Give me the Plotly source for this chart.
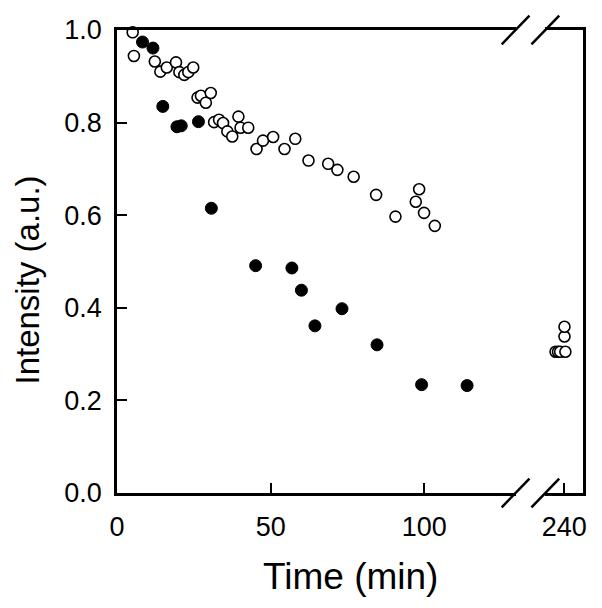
import plotly.graph_objects as go

# open circles, early time points (min) and intensity (a.u.)
open_time = [5.1, 5.5, 12.3, 14.1, 16.2, 19.2, 20.3, 21.9, 23.2, 24.8, 26.2, 27.3, 28.9,
             30.5, 31.6, 33.2, 34.5, 35.9, 37.5, 39.5, 40.2, 42.7, 45.4, 47.5, 50.8,
             54.5, 58.0, 62.3, 68.7, 71.7, 77.0, 84.3, 90.6, 97.2, 98.3, 99.9, 103.4]
open_int = [0.995, 0.944, 0.932, 0.910, 0.919, 0.930, 0.909, 0.903, 0.909, 0.919, 0.854,
            0.858, 0.843, 0.864, 0.801, 0.806, 0.799, 0.781, 0.770, 0.813, 0.789, 0.789,
            0.743, 0.761, 0.769, 0.743, 0.765, 0.718, 0.711, 0.698, 0.683, 0.644, 0.597,
            0.629, 0.656, 0.605, 0.577]

# open circles after the axis break
late_time = [237.2, 238.0, 238.7, 240.4, 240.1, 240.1]
late_int = [0.305, 0.305, 0.305, 0.305, 0.338, 0.359]

# filled circles
filled_time = [8.3, 11.7, 14.9, 19.5, 20.9, 26.5, 30.7, 45.1, 56.9, 60.0, 64.4, 73.2,
               84.6, 99.1, 113.9]
filled_int = [0.974, 0.961, 0.835, 0.791, 0.793, 0.802, 0.615, 0.491, 0.486, 0.438,
              0.361, 0.398, 0.320, 0.234, 0.232]

x_ticks_left = [0, 50, 100]
x_ticks_right = [240]
y_ticks = [0.0, 0.2, 0.4, 0.6, 0.8, 1.0]

FONT = "Liberation Sans, Arial, sans-serif"
PAGE_PAD = 8  # default body margin of the html page
W, H = 602 - 2 * PAGE_PAD, 608 - 2 * PAGE_PAD

# frame position on the page (px)
frame_left, frame_right, frame_top, frame_bottom = 117, 587, 24, 493
ML = frame_left - PAGE_PAD
MT = frame_top - PAGE_PAD
MR = W - (frame_right - PAGE_PAD)
MB = H - (frame_bottom - PAGE_PAD)
PW = frame_right - frame_left
PH = frame_bottom - frame_top

# pixel layout of the broken x axis
left_end_px = 519
right_start_px = 549
px_per_min = 3.1
tick240_px = 568


def px_to_paper_x(px):
    return (px - frame_left) / PW


def px_to_paper_y(py):
    return (frame_bottom - py) / PH


open_marker = dict(symbol="circle", size=11, color="white", line=dict(color="black", width=1.6))
filled_marker = dict(symbol="circle", size=12, color="black", line=dict(color="black", width=1))

fig = go.Figure()
fig.add_trace(go.Scatter(x=open_time, y=open_int, mode="markers", marker=open_marker,
                         xaxis="x", yaxis="y", cliponaxis=False, showlegend=False))
fig.add_trace(go.Scatter(x=filled_time, y=filled_int, mode="markers", marker=filled_marker,
                         xaxis="x", yaxis="y", cliponaxis=False, showlegend=False))
fig.add_trace(go.Scatter(x=late_time, y=late_int, mode="markers", marker=open_marker,
                         xaxis="x2", yaxis="y2", cliponaxis=False, showlegend=False))

left_range = [0, (left_end_px - frame_left) / px_per_min]
right_range = [240 - (tick240_px - right_start_px) / px_per_min,
               240 + (frame_right - tick240_px) / px_per_min]

axis_common = dict(
    showline=True, linecolor="black", linewidth=2.5, mirror=True,
    ticks="inside", ticklen=10, tickwidth=2, tickcolor="black",
    showgrid=False, zeroline=False,
    tickfont=dict(family=FONT, size=27, color="black"),
)

fig.update_layout(
    width=W, height=H,
    margin=dict(l=ML, r=MR, t=MT, b=MB),
    plot_bgcolor="white", paper_bgcolor="white",
    xaxis=dict(domain=[0, px_to_paper_x(left_end_px)], range=left_range,
               tickvals=x_ticks_left, anchor="y", ticklabelstandoff=8, **axis_common),
    xaxis2=dict(domain=[px_to_paper_x(right_start_px), 1], range=right_range,
                tickvals=x_ticks_right, anchor="y2", ticklabelstandoff=8, **axis_common),
    yaxis=dict(range=[0, 1], tickvals=y_ticks, tickformat=".1f", anchor="x",
               ticklabelstandoff=7, **{**axis_common, "mirror": False}),
    yaxis2=dict(range=[0, 1], tickvals=y_ticks, anchor="x2", side="right",
                showticklabels=False, **{**axis_common, "mirror": False, "ticks": ""}),
)

# axis titles spanning the whole frame
fig.add_annotation(text="Time (min)", xref="paper", yref="paper",
                   x=px_to_paper_x(352), y=px_to_paper_y(578),
                   xanchor="center", yanchor="middle", showarrow=False,
                   font=dict(family=FONT, size=37, color="black"))
fig.add_annotation(text="Intensity (a.u.)", xref="paper", yref="paper",
                   x=px_to_paper_x(27), y=px_to_paper_y(277), textangle=-90,
                   xanchor="center", yanchor="middle", showarrow=False,
                   font=dict(family=FONT, size=33, color="black"))

# break marks on top and bottom edges
for cx in (left_end_px, right_start_px):
    for cy in (frame_bottom, frame_top):
        fig.add_shape(type="line", xref="paper", yref="paper",
                      x0=px_to_paper_x(cx - 14), y0=px_to_paper_y(cy + 14.5),
                      x1=px_to_paper_x(cx + 14), y1=px_to_paper_y(cy - 14.5),
                      line=dict(color="black", width=2.5))

fig.write_html("out.html")
